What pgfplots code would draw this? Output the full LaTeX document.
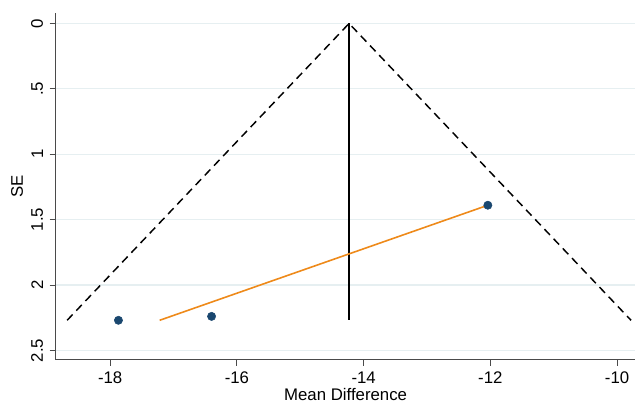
\documentclass[border=0pt]{standalone}
\usepackage{pgfplots}
\pgfplotsset{compat=1.18}
\usepackage{fontspec}
\setmainfont{Liberation Sans}
\definecolor{stnavy}{HTML}{1A476F}
\definecolor{storange}{HTML}{EE8A1A}
\definecolor{stgrid}{HTML}{E6EFF1}
\definecolor{staxis}{HTML}{4A4A4A}

\begin{document}
\begin{tikzpicture}
\begin{axis}[
    scale only axis,
    width=435pt, height=260pt,
    xmin=-18.86, xmax=-9.71,
    ymin=-0.08, ymax=2.57,
    y dir=reverse,
    axis lines*=left,
    axis line style={staxis, line width=0.8pt},
    xtick={-18,-16,-14,-12,-10},
    xticklabels={-18,-16,-14,-12,-10},
    ytick={0,0.5,1,1.5,2,2.5},
    yticklabels={0,.5,1,1.5,2,2.5},
    tick align=outside,
    major tick length=4.5pt,
    tick style={staxis, line width=0.7pt},
    ymajorgrids=true,
    grid style={stgrid, line width=0.8pt},
    ticklabel style={font=\fontsize{12.6}{14}\selectfont},
    yticklabel style={rotate=90, anchor=south, yshift=1.5pt},
    xticklabel style={yshift=-1pt},
    label style={font=\fontsize{12.6}{14}\selectfont},
    xlabel={Mean Difference},
    ylabel={SE},
    xlabel style={at={(axis description cs:0.5,-0.101)}, anchor=center},
    ylabel style={at={(axis description cs:-0.0667,0.5)}, anchor=center},
    clip=false,
]
% funnel limits
\addplot[black, line width=1.1pt, dash pattern=on 6pt off 4pt] coordinates {
    (-18.68,2.27) (-14.23,0) (-9.78,2.27)
};
% pooled estimate
\addplot[black, line width=1.1pt] coordinates {(-14.23,0) (-14.23,2.27)};
% regression line
\addplot[storange, line width=1.2pt] coordinates {(-17.22,2.27) (-12.04,1.39)};
% studies
\addplot[only marks, mark=*, mark size=3.1pt, stnavy] coordinates {
    (-17.87,2.27) (-16.40,2.24) (-12.04,1.39)
};
\end{axis}
\path (current axis.north west) ++(0,9.75pt);
\path (current axis.south west) ++(-41.8pt,-31pt);
\end{tikzpicture}
\end{document}
